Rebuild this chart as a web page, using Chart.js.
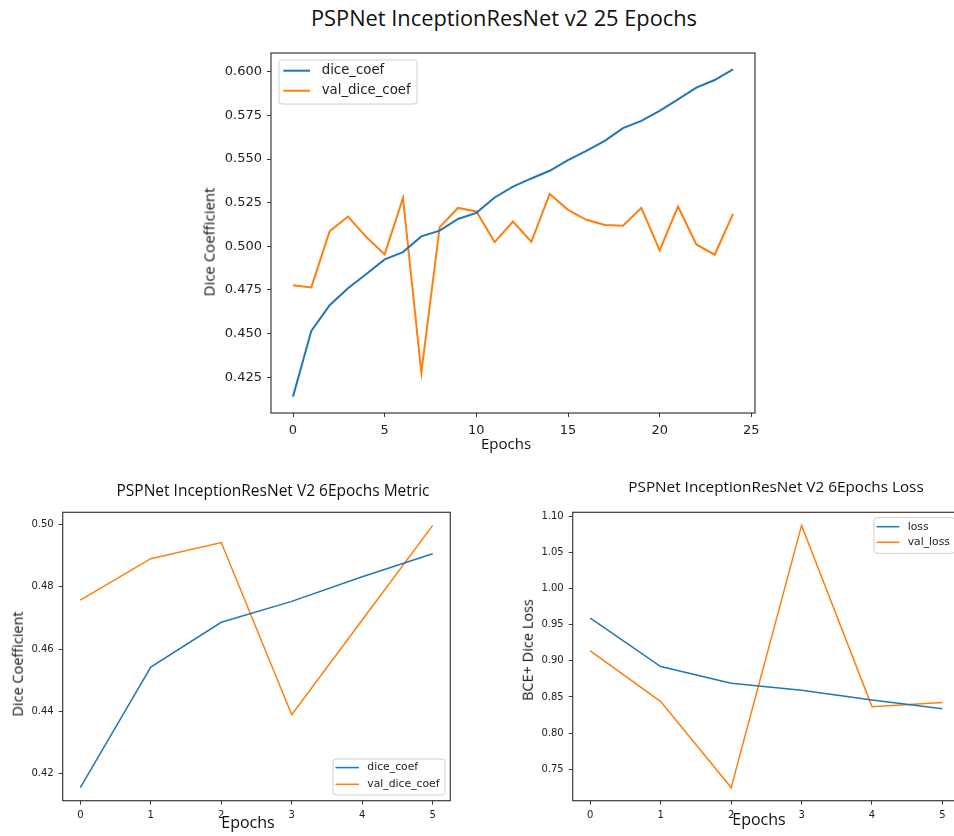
<!DOCTYPE html>
<html><head><meta charset="utf-8">
<script src="https://cdn.jsdelivr.net/npm/chart.js@4"></script>
<style>
html,body{margin:0;padding:0;width:954px;height:836px;overflow:hidden;background:#fff;}
canvas{position:absolute;}
.t{position:absolute;font-family:'Open Sans',sans-serif;color:#111;white-space:nowrap;transform:translate(-50%,-50%);line-height:1;}
.v{transform:translate(-50%,-50%) rotate(-90deg);}
</style></head><body>
<canvas id="c1" width="580" height="400" style="left:190px;top:45px"></canvas>
<canvas id="c2" width="470" height="330" style="left:0px;top:500px"></canvas>
<canvas id="c3" width="470" height="330" style="left:500px;top:500px"></canvas>

<div class="t" style="left:504px;top:18px;font-size:21.8px">PSPNet InceptionResNet v2 25 Epochs</div>
<div class="t v" style="left:209px;top:242px;font-size:15px">Dice Coefficient</div>
<div class="t" style="left:506px;top:443px;font-size:15px">Epochs</div>

<div class="t" style="left:273px;top:491px;font-size:15.5px">PSPNet InceptionResNet V2 6Epochs Metric</div>
<div class="t v" style="left:18px;top:664px;font-size:14.5px">Dice Coefficient</div>
<div class="t" style="left:248px;top:822px;font-size:16px">Epochs</div>

<div class="t" style="left:776px;top:487px;font-size:15.3px">PSPNet InceptionResNet V2 6Epochs Loss</div>
<div class="t v" style="left:528px;top:650px;font-size:14.5px">BCE+ Dice Loss</div>
<div class="t" style="left:759px;top:819px;font-size:16px">Epochs</div>

<script>
// ---------- data ----------
const epochs25 = [0,1,2,3,4,5,6,7,8,9,10,11,12,13,14,15,16,17,18,19,20,21,22,23,24];
const diceCoef25 = [0.4139,0.4516,0.4663,0.4760,0.4842,0.4925,0.4967,0.5057,0.5090,0.5157,0.5192,0.5280,0.5342,0.5389,0.5433,0.5494,0.5547,0.5604,0.5677,0.5719,0.5776,0.5842,0.5909,0.5953,0.6014];
const valDiceCoef25 = [0.4777,0.4765,0.5087,0.5171,0.5053,0.4954,0.5277,0.4276,0.5110,0.5220,0.5200,0.5024,0.5142,0.5026,0.5300,0.5209,0.5152,0.5123,0.5118,0.5220,0.4977,0.5228,0.5011,0.4952,0.5186];
const xTicks25 = [0,5,10,15,20,25];
const yTicks25 = [0.425,0.450,0.475,0.500,0.525,0.550,0.575,0.600];

const epochs6 = [0,1,2,3,4,5];
const diceCoef6 = [0.4155,0.4542,0.4686,0.4753,0.4832,0.4906];
const valDiceCoef6 = [0.4757,0.4890,0.4942,0.4389,0.4693,0.4997];
const xTicks6 = [0,1,2,3,4,5];
const yTicksMetric6 = [0.42,0.44,0.46,0.48,0.50];

const loss6 = [0.9592,0.8921,0.8690,0.8593,0.8458,0.8338];
const valLoss6 = [0.9139,0.8435,0.7245,1.0875,0.8366,0.8423];
const yTicksLoss6 = [0.75,0.80,0.85,0.90,0.95,1.00,1.05,1.10];

const BLUE = '#1f77b4', ORANGE = '#ff7f0e';

// ---------- helpers ----------
function padRange(arr){ const mn=Math.min(...arr), mx=Math.max(...arr), r=mx-mn; return [mn-0.05*r, mx+0.05*r]; }
function pts(xs, ys){ return xs.map((x,i)=>({x:x,y:ys[i]})); }

const framePlugin = {
  id:'frame',
  afterDatasetsDraw(chart, args, o){
    const ctx = chart.ctx, a = chart.chartArea;
    ctx.save();
    ctx.strokeStyle = '#3a3a3a'; ctx.lineWidth = 1.2;
    ctx.strokeRect(a.left, a.top, a.right-a.left, a.bottom-a.top);
    const L = o.legend;
    if (L) {
      const x = L.right ? a.right - L.dx - L.w : a.left + L.dx;
      const y = L.bottom ? a.bottom - L.dy - L.h : a.top + L.dy;
      ctx.beginPath();
      if (ctx.roundRect) ctx.roundRect(x, y, L.w, L.h, 3); else ctx.rect(x, y, L.w, L.h);
      ctx.fillStyle = 'rgba(255,255,255,0.85)'; ctx.fill();
      ctx.strokeStyle = '#d0d0d0'; ctx.lineWidth = 1; ctx.stroke();
      ctx.font = L.font + 'px "DejaVu Sans"';
      ctx.textBaseline = 'middle'; ctx.textAlign = 'left';
      chart.data.datasets.forEach((ds,i)=>{
        const cy = y + L.row0 + i*L.gap;
        ctx.beginPath(); ctx.moveTo(x+L.l0, cy); ctx.lineTo(x+L.l1, cy);
        ctx.strokeStyle = ds.borderColor; ctx.lineWidth = ds.borderWidth; ctx.stroke();
        ctx.fillStyle = '#222'; ctx.fillText(ds.label, x+L.tx, cy);
      });
    }
    ctx.restore();
  }
};

function makeChart(id, cfg){
  const [ymin, ymax] = cfg.yRange;
  const [xmin, xmax] = cfg.xRange;
  const tickFont = {family:'"DejaVu Sans"', size:cfg.tickSize};
  return new Chart(document.getElementById(id), {
    type:'line',
    data:{datasets: cfg.series.map(s=>({label:s.label, data:s.data, borderColor:s.color, backgroundColor:s.color,
        borderWidth:cfg.lw, pointRadius:0, tension:0, fill:false}))},
    options:{
      responsive:false, animation:false, devicePixelRatio:1,
      layout:{padding:{top:cfg.padTop, right:cfg.padRight, left:0, bottom:0}},
      plugins:{legend:{display:false}, tooltip:{enabled:false}, frame:{legend:cfg.legend}},
      scales:{
        x:{type:'linear', min:xmin, max:xmax,
           afterFit(s){ s.height = cfg.xAxisH; s.paddingLeft = 0; s.paddingRight = 0; },
           afterBuildTicks(s){ s.ticks = cfg.xTicks.map(v=>({value:v})); },
           grid:{drawOnChartArea:false, drawTicks:true, tickLength:4, tickColor:'#3a3a3a', tickWidth:1},
           border:{display:false},
           ticks:{font:tickFont, color:'#222', padding:cfg.xPad, maxRotation:0, autoSkip:false,
                  callback:v=>String(v)}},
        y:{type:'linear', min:ymin, max:ymax,
           afterFit(s){ s.width = cfg.yAxisW; s.paddingTop = 0; s.paddingBottom = 0; },
           afterBuildTicks(s){ s.ticks = cfg.yTicks.map(v=>({value:v})); },
           grid:{drawOnChartArea:false, drawTicks:true, tickLength:4, tickColor:'#3a3a3a', tickWidth:1},
           border:{display:false},
           ticks:{font:tickFont, color:'#222', padding:5, autoSkip:false,
                  callback:v=>v.toFixed(cfg.dec)}}
      }
    },
    plugins:[framePlugin]
  });
}

// top chart
makeChart('c1', {
  series:[{label:'dice_coef', data:pts(epochs25, diceCoef25), color:BLUE},
          {label:'val_dice_coef', data:pts(epochs25, valDiceCoef25), color:ORANGE}],
  xRange: padRange(epochs25), yRange: padRange(diceCoef25.concat(valDiceCoef25)),
  xTicks: xTicks25, yTicks: yTicks25, dec:3, tickSize:13, lw:2,
  padTop:8, padRight:15, yAxisW:81, xAxisH:32, xPad:6,
  legend:{right:false, bottom:false, dx:8, dy:7, w:138, h:44, l0:4.3, l1:31, tx:42.7, row0:10.7, gap:20, font:13.3}
});

// bottom-left chart
makeChart('c2', {
  series:[{label:'dice_coef', data:pts(epochs6, diceCoef6), color:BLUE},
          {label:'val_dice_coef', data:pts(epochs6, valDiceCoef6), color:ORANGE}],
  xRange: padRange(epochs6), yRange: padRange(diceCoef6.concat(valDiceCoef6)),
  xTicks: xTicks6, yTicks: yTicksMetric6, dec:2, tickSize:10, lw:1.5,
  padTop:12.3, padRight:19.7, yAxisW:62.7, xAxisH:29.3, xPad:5,
  legend:{right:true, bottom:true, dx:5.3, dy:5.7, w:112, h:36, l0:2.5, l1:26, tx:34.3, row0:8.6, gap:16.7, font:10.8}
});

// bottom-right chart
makeChart('c3', {
  series:[{label:'loss', data:pts(epochs6, loss6), color:BLUE},
          {label:'val_loss', data:pts(epochs6, valLoss6), color:ORANGE}],
  xRange: padRange(epochs6), yRange: padRange(loss6.concat(valLoss6)),
  xTicks: xTicks6, yTicks: yTicksLoss6, dec:2, tickSize:10, lw:1.5,
  padTop:12.3, padRight:10, yAxisW:72.7, xAxisH:29.3, xPad:5,
  legend:{right:true, bottom:false, dx:5, dy:5.4, w:81, h:35.6, l0:2.7, l1:25.3, tx:33.7, row0:9, gap:15.6, font:10.8}
});
</script>
</body></html>
